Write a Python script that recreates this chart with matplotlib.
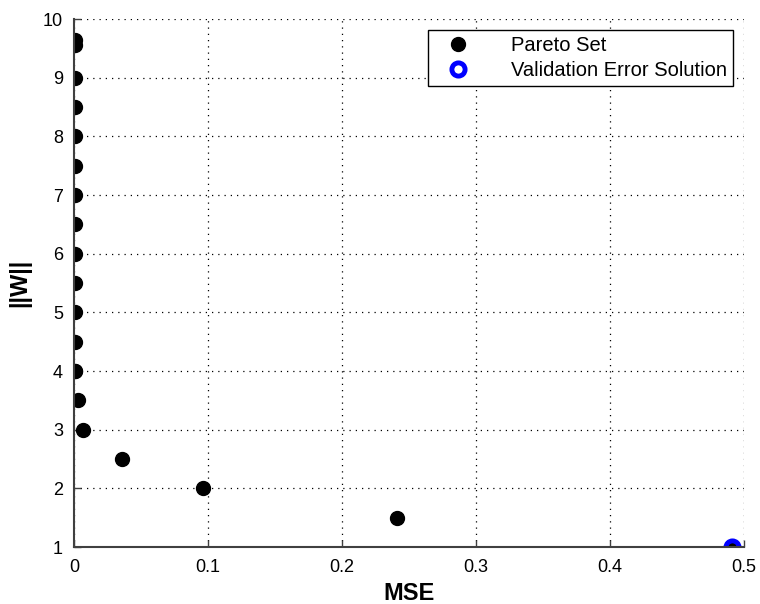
import matplotlib
matplotlib.use("Agg")
import matplotlib.pyplot as plt

# Pareto set
mse = [0.0005, 0.0005, 0.0005, 0.0005, 0.0005, 0.0005, 0.0005, 0.0005,
       0.0005, 0.0005, 0.0005, 0.0005, 0.0005, 0.0005,
       0.0027, 0.0065, 0.036, 0.096, 0.241, 0.491]
w_norm = [9.65, 9.55, 9.0, 8.5, 8.0, 7.5, 7.0, 6.5,
          6.0, 5.5, 5.0, 4.5, 4.0, 4.0,
          3.5, 3.0, 2.5, 2.0, 1.5, 1.0]

# solution picked by validation error
val_mse = [0.491]
val_w = [1.0]

xticks = [0, 0.1, 0.2, 0.3, 0.4, 0.5]
yticks = [1, 2, 3, 4, 5, 6, 7, 8, 9, 10]

plt.rcParams['font.family'] = ['Liberation Sans', 'DejaVu Sans']

fig = plt.figure(figsize=(7.6, 6.04), dpi=100)
ax = fig.add_axes([74 / 760, 1 - 547 / 604, 670 / 760, 528 / 604])

ax.plot(mse, w_norm, 'o', color='black', markersize=10, linestyle='none',
        label='Pareto Set', zorder=3)
ax.plot(val_mse, val_w, 'o', markerfacecolor='none', markeredgecolor='blue',
        markeredgewidth=3.5, markersize=9.5, linestyle='none',
        label='Validation Error Solution', zorder=4)

ax.set_xlim(0, 0.5)
ax.set_ylim(1, 10)
ax.set_xticks(xticks)
ax.set_yticks(yticks)
ax.set_xticklabels(['0', '0.1', '0.2', '0.3', '0.4', '0.5'])
ax.tick_params(direction='in', length=5, width=1, color='0.25',
               labelsize=13, pad=8)
ax.tick_params(axis='x', pad=9)

ax.grid(True, linestyle=(0, (1, 4)), color='black', linewidth=0.9)
for side in ['top', 'right']:
    ax.spines[side].set_visible(False)
for side in ['left', 'bottom']:
    ax.spines[side].set_color('0.25')
    ax.spines[side].set_linewidth(1.5)
ax.spines['left'].set_zorder(5)
ax.spines['bottom'].set_zorder(5)

ax.set_xlabel('MSE', fontsize=17, fontweight='bold', labelpad=4)
ax.set_ylabel('||W||', fontsize=17, fontweight='bold', labelpad=8)

leg = ax.legend(loc='upper right', bbox_to_anchor=(0.9836, 0.979),
                borderaxespad=0,
                fancybox=False, edgecolor='black', framealpha=1,
                fontsize=14.5, borderpad=0.3, labelspacing=0.3,
                handletextpad=1.5, handlelength=2.3)
leg.get_frame().set_linewidth(1.0)

fig.savefig('out.png', dpi=100)
